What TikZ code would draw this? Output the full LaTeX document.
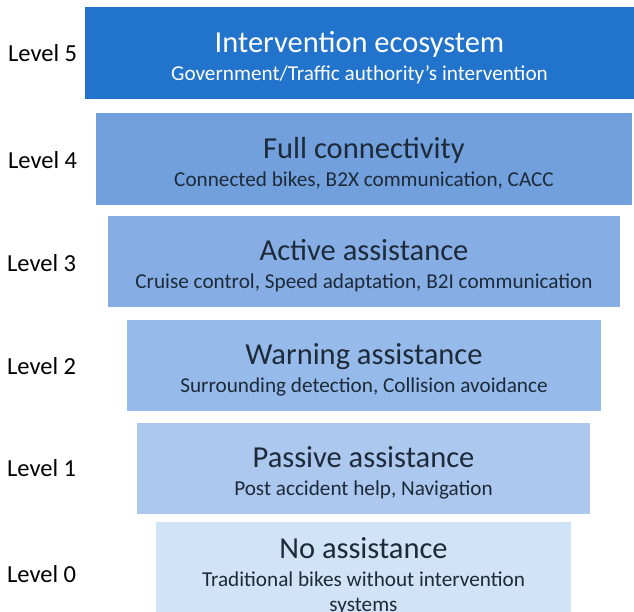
\documentclass[tikz,border=0pt]{standalone}
\usepackage{fontspec}
\setmainfont{Carlito}
\definecolor{lvfive}{HTML}{2173CC}
\definecolor{lvfour}{HTML}{71A0DC}
\definecolor{lvthree}{HTML}{86AEE4}
\definecolor{lvtwo}{HTML}{96BAE9}
\definecolor{lvone}{HTML}{ADC8EE}
\definecolor{lvzero}{HTML}{D1E3F7}
\definecolor{darktext}{HTML}{1D2A3A}
\newcommand{\lvtitle}[1]{{\fontsize{30.5}{30}\selectfont\rule{0pt}{30pt}#1}}
\begin{document}
\begin{tikzpicture}[x=1pt,y=-1pt]
\tikzstyle{levelbox} = [inner sep=0pt, align=center, text=darktext, font=\fontsize{21.2}{25}\selectfont];
\tikzstyle{levellabel} = [anchor=west, inner sep=0pt, font=\fontsize{24.5}{28}\selectfont];
\clip (0,0) rectangle (634,612);
\node[levelbox, fill=lvfive, text=white, minimum width=549pt, minimum height=92pt] (l5) at (359.5, 53) {\lvtitle{Intervention ecosystem}\\[3pt]Government/Traffic authority’s intervention};
\node[levelbox, fill=lvfour, minimum width=536pt, minimum height=92pt] (l4) at (364, 159) {\lvtitle{Full connectivity}\\[3pt]Connected bikes, B2X communication, CACC};
\node[levelbox, fill=lvthree, minimum width=512pt, minimum height=91pt] (l3) at (364, 261.5) {\lvtitle{Active assistance}\\[3pt]Cruise control, Speed adaptation, B2I communication};
\node[levelbox, fill=lvtwo, minimum width=474pt, minimum height=91pt] (l2) at (364, 365.5) {\lvtitle{Warning assistance}\\[3pt]Surrounding detection, Collision avoidance};
\node[levelbox, fill=lvone, minimum width=453pt, minimum height=91pt] (l1) at (363.5, 468.5) {\lvtitle{Passive assistance}\\[3pt]Post accident help, Navigation};
\node[levelbox, fill=lvzero, minimum width=415pt, minimum height=100pt] (l0) at (363.5, 572) {\lvtitle{No assistance}\\[3pt]Traditional bikes without intervention\\systems};
\node[levellabel] (lab5) at (8, 53) {Level 5};
\node[levellabel] (lab4) at (8, 160) {Level 4};
\node[levellabel] (lab3) at (7, 263) {Level 3};
\node[levellabel] (lab2) at (7, 366) {Level 2};
\node[levellabel] (lab1) at (7, 468) {Level 1};
\node[levellabel] (lab0) at (7, 574) {Level 0};
\end{tikzpicture}
\end{document}
